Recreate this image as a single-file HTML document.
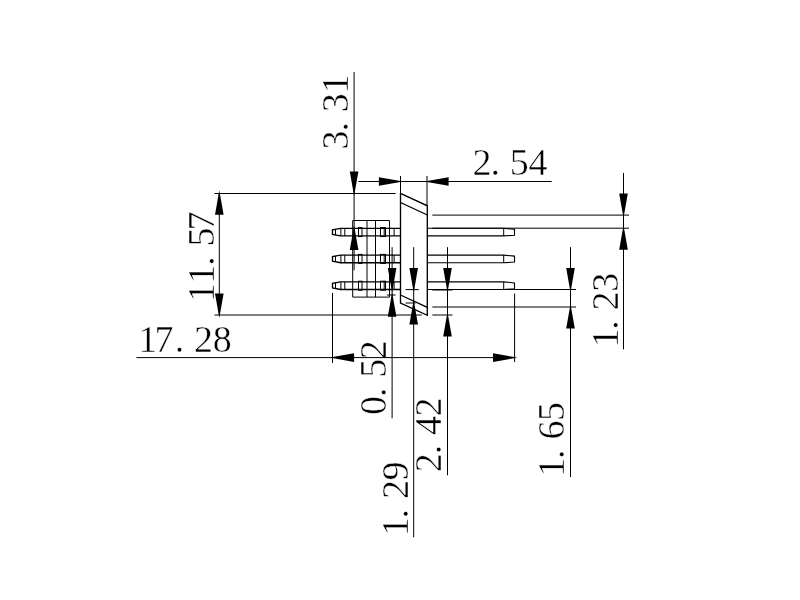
<!DOCTYPE html>
<html><head><meta charset="utf-8"><title>drawing</title>
<style>
html,body{margin:0;padding:0;background:#fff;}
svg{display:block;will-change:transform;}
line,polyline,rect{stroke:#000;stroke-width:1.0;fill:none;}
.o{stroke-width:1.35;}
.p{stroke-width:1.1;}
.a{fill:#000;stroke:none;}
text{font-family:"Liberation Serif",serif;font-size:38px;fill:#000;stroke:#fff;stroke-width:0.45;stroke-linejoin:round;}
</style></head><body>
<svg width="800" height="600" viewBox="0 0 800 600">
<rect x="0" y="0" width="800" height="600" style="fill:#fff;stroke:none"/>
<text transform="translate(214.40,302.30) rotate(-90)" x="0.00 18.60 36.50 55.80 71.90" y="0">11.57</text>
<text transform="translate(348.00,149.40) rotate(-90)" x="0.00 17.90 37.20 55.80" y="0">3.31</text>
<text x="472.60 490.50 509.80 528.40" y="175.30">2.54</text>
<text x="138.30 154.40 174.80 194.10 212.70" y="352.10">17.28</text>
<text transform="translate(386.40,415.00) rotate(-90)" x="0.00 17.90 37.20 55.80" y="0">0.52</text>
<text transform="translate(408.00,536.30) rotate(-90)" x="0.00 17.90 37.20 55.80" y="0">1.29</text>
<text transform="translate(441.30,472.20) rotate(-90)" x="0.00 17.90 37.20 55.80" y="0">2.42</text>
<text transform="translate(564.40,476.80) rotate(-90)" x="0.00 17.90 37.20 55.80" y="0">1.65</text>
<text transform="translate(618.00,347.60) rotate(-90)" x="0.00 17.90 37.20 55.80" y="0">1.23</text>
<polyline class="o" points="400.50,193.30 427.30,205.80 427.30,315.30 400.50,303.00 400.50,193.30"/>
<line class="o" x1="400.50" y1="202.50" x2="427.30" y2="215.00"/>
<line class="o" x1="400.50" y1="295.00" x2="427.30" y2="307.30"/>
<polyline points="352.70,220.50 389.50,220.50 389.50,297.10 352.70,297.10 352.70,220.50"/>
<line x1="367.00" y1="220.50" x2="367.00" y2="297.10"/>
<line x1="375.50" y1="220.50" x2="375.50" y2="297.10"/>
<polyline class="o" points="400.50,228.30 340.50,228.30 332.50,229.80 332.50,234.36 340.50,235.86 400.50,235.86"/>
<line x1="335.50" y1="229.20" x2="335.50" y2="234.96"/>
<line x1="340.90" y1="228.30" x2="340.90" y2="235.86"/>
<line x1="344.80" y1="228.30" x2="344.80" y2="235.86"/>
<line x1="394.10" y1="228.30" x2="394.10" y2="235.86"/>
<rect x="358.5" y="227.60" width="3.5" height="8.96"/>
<rect x="380.5" y="227.60" width="5.0" height="8.96"/>
<line x1="384.20" y1="228.30" x2="384.20" y2="235.86"/>
<polyline class="p" points="427.30,228.30 503.70,228.30 514.50,229.30 514.50,235.26 503.70,235.86 427.30,235.86"/>
<line x1="503.70" y1="228.30" x2="503.70" y2="235.86"/>
<polyline class="o" points="400.50,255.10 340.50,255.10 332.50,256.60 332.50,261.20 340.50,262.70 400.50,262.70"/>
<line x1="335.50" y1="256.00" x2="335.50" y2="261.80"/>
<line x1="340.90" y1="255.10" x2="340.90" y2="262.70"/>
<line x1="344.80" y1="255.10" x2="344.80" y2="262.70"/>
<line x1="394.10" y1="255.10" x2="394.10" y2="262.70"/>
<rect x="358.5" y="254.40" width="3.5" height="9.00"/>
<rect x="380.5" y="254.40" width="5.0" height="9.00"/>
<line x1="384.20" y1="255.10" x2="384.20" y2="262.70"/>
<polyline class="p" points="427.30,255.10 503.70,255.10 514.50,256.10 514.50,262.10 503.70,262.70 427.30,262.70"/>
<line x1="503.70" y1="255.10" x2="503.70" y2="262.70"/>
<polyline class="o" points="400.50,281.90 340.50,281.90 332.50,283.40 332.50,288.00 340.50,289.50 400.50,289.50"/>
<line x1="335.50" y1="282.80" x2="335.50" y2="288.60"/>
<line x1="340.90" y1="281.90" x2="340.90" y2="289.50"/>
<line x1="344.80" y1="281.90" x2="344.80" y2="289.50"/>
<line x1="394.10" y1="281.90" x2="394.10" y2="289.50"/>
<rect x="358.5" y="281.20" width="3.5" height="9.00"/>
<rect x="380.5" y="281.20" width="5.0" height="9.00"/>
<line x1="384.20" y1="281.90" x2="384.20" y2="289.50"/>
<polyline class="p" points="427.30,281.90 503.70,281.90 514.50,282.90 514.50,288.90 503.70,289.50 427.30,289.50"/>
<line x1="503.70" y1="281.90" x2="503.70" y2="289.50"/>
<line x1="214.50" y1="193.50" x2="395.60" y2="193.50"/>
<line x1="214.50" y1="315.00" x2="421.80" y2="315.00"/>
<line x1="219.30" y1="193.20" x2="219.30" y2="315.00"/>
<polygon class="a" points="219.30,190.31 215.00,214.80 223.60,214.80"/>
<polygon class="a" points="219.30,317.89 215.00,293.40 223.60,293.40"/>
<line x1="354.10" y1="72.00" x2="354.10" y2="270.30"/>
<polygon class="a" points="354.10,196.09 349.80,171.60 358.40,171.60"/>
<polygon class="a" points="354.10,225.41 349.80,249.90 358.40,249.90"/>
<line x1="400.50" y1="176.00" x2="400.50" y2="193.30"/>
<line x1="427.00" y1="176.00" x2="427.00" y2="205.80"/>
<line x1="358.50" y1="181.50" x2="551.70" y2="181.50"/>
<polygon class="a" points="403.39,181.50 378.90,177.20 378.90,185.80"/>
<polygon class="a" points="424.11,181.50 448.60,177.20 448.60,185.80"/>
<line x1="332.50" y1="293.00" x2="332.50" y2="363.00"/>
<line x1="514.60" y1="293.60" x2="514.60" y2="362.00"/>
<line x1="136.40" y1="357.60" x2="514.60" y2="357.60"/>
<polygon class="a" points="329.61,357.60 354.10,353.30 354.10,361.90"/>
<polygon class="a" points="517.49,357.60 493.00,353.30 493.00,361.90"/>
<line x1="386.90" y1="295.00" x2="395.60" y2="295.00"/>
<line x1="392.10" y1="247.20" x2="392.10" y2="418.30"/>
<polygon class="a" points="392.10,292.39 387.80,267.90 396.40,267.90"/>
<polygon class="a" points="392.10,292.31 387.80,316.80 396.40,316.80"/>
<line x1="405.50" y1="289.60" x2="418.80" y2="289.60"/>
<line x1="405.50" y1="303.00" x2="415.50" y2="303.00"/>
<line x1="413.70" y1="247.20" x2="413.70" y2="537.30"/>
<polygon class="a" points="413.70,292.39 409.40,267.90 418.00,267.90"/>
<polygon class="a" points="413.70,300.11 409.40,324.60 418.00,324.60"/>
<line x1="432.30" y1="290.00" x2="452.50" y2="290.00"/>
<line x1="432.30" y1="315.00" x2="452.50" y2="315.00"/>
<line x1="447.50" y1="247.20" x2="447.50" y2="475.30"/>
<polygon class="a" points="447.50,292.39 443.20,267.90 451.80,267.90"/>
<polygon class="a" points="447.50,312.11 443.20,336.60 451.80,336.60"/>
<line x1="432.30" y1="289.50" x2="576.00" y2="289.50"/>
<line x1="432.30" y1="307.00" x2="576.00" y2="307.00"/>
<line x1="570.50" y1="247.20" x2="570.50" y2="477.10"/>
<polygon class="a" points="570.50,292.39 566.20,267.90 574.80,267.90"/>
<polygon class="a" points="570.50,304.11 566.20,328.60 574.80,328.60"/>
<line x1="432.30" y1="215.10" x2="629.00" y2="215.10"/>
<line x1="432.30" y1="228.20" x2="629.00" y2="228.20"/>
<line x1="623.50" y1="173.00" x2="623.50" y2="349.40"/>
<polygon class="a" points="623.50,217.99 619.20,193.50 627.80,193.50"/>
<polygon class="a" points="623.50,225.31 619.20,249.80 627.80,249.80"/>
</svg>
</body></html>
